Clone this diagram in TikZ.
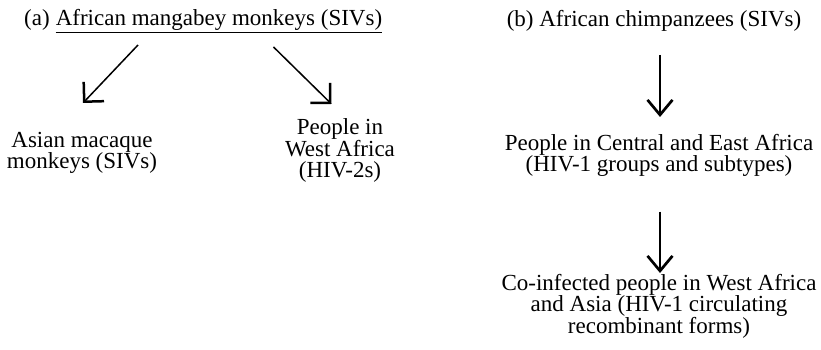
\documentclass[tikz,border=0pt]{standalone}
\usepackage{fontspec}
\setmainfont{Liberation Serif}
\usetikzlibrary{arrows.meta,calc}
\begin{document}
\begin{tikzpicture}[x=1pt,y=1pt,
  txt/.style={inner sep=0pt,anchor=base,align=center,font=\fontsize{23}{21}\selectfont},
  diag/.style={line width=1.5pt,-{Straight Barb[length=14pt,width=28pt,line width=2.5pt]}},
  vert/.style={line width=2.7pt,-{Straight Barb[length=15pt,width=25pt,line width=2.7pt]}}]
\useasboundingbox[fill=white] (0,0) rectangle (821,350);
% (a)
\node[txt] (tm) at (219,324) {African mangabey monkeys (SIVs)};
\node[txt,anchor=base east] (ta) at ([xshift=-5.75pt]tm.base west) {(a)};
\draw[line width=1.3pt] ([yshift=-6.7pt]tm.base west) -- ([yshift=-6.7pt]tm.base east);
\node[txt] (asian) at (82,181) {Asian macaque\\monkeys (SIVs)};
\node[txt] (people) at (340,172.5) {People in\\West Africa\\(HIV-2s)};
\draw[diag] ($(tm.base)+(-81,-19)$) -- ($(asian.base)+(1,66)$);
\draw[diag] ($(tm.base)+(54.5,-21)$) -- ($(people.base)+(-8.5,73.5)$);
% (b)
\node[txt] (tb) at (654,323.5) {(b) African chimpanzees (SIVs)};
\node[txt] (central) at (659,178.3) {People in Central and East Africa\\(HIV-1 groups and subtypes)};
\node[txt] (coinf) at (659,16.7) {Co-infected people in West Africa\\and Asia (HIV-1 circulating\\recombinant forms)};
\draw[vert] ($(tb.base)+(6,-28.5)$) -- ($(central.base)+(1,54.7)$);
\draw[vert] ($(central.base)+(1,-40)$) -- ($(coinf.base)+(1,60.3)$);
\end{tikzpicture}
\end{document}
